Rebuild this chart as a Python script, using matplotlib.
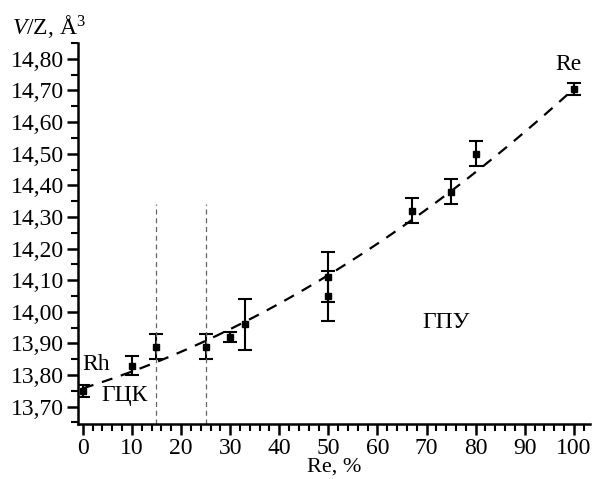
import numpy as np
import matplotlib
matplotlib.use("Agg")
import matplotlib.pyplot as plt
from matplotlib.ticker import MultipleLocator, FuncFormatter

plt.rcParams['font.family'] = ['Liberation Serif', 'DejaVu Serif']
plt.rcParams['mathtext.fontset'] = 'custom'
plt.rcParams['mathtext.rm'] = 'Liberation Serif'
plt.rcParams['mathtext.it'] = 'Liberation Serif:italic'

# содержание Re, % и объём на атом
re_pct = [0, 10, 15, 25, 30, 33, 50, 50, 67, 75, 80, 100]
vz = [13.75, 13.83, 13.89, 13.89, 13.92, 13.96, 14.11, 14.05, 14.32, 14.38, 14.50, 14.705]
vz_err = [0.02, 0.03, 0.04, 0.04, 0.015, 0.08, 0.08, 0.08, 0.04, 0.04, 0.04, 0.02]

# коэффициенты аппроксимирующей параболы (c0, c1, c2)
fit_coef = [13.758, 0.00485, 0.0000462]

# границы областей
bounds = [15, 25]

fig = plt.figure(figsize=(5.95, 4.79), dpi=100)
ax = fig.add_axes([0.131, 0.1147, 0.8606, 0.7955])

xf = np.linspace(0, 100, 200)
ax.plot(xf, np.polynomial.polynomial.polyval(xf, fit_coef), color='black', lw=1.6, dashes=(5, 4))

ax.errorbar(re_pct, vz, yerr=vz_err, fmt='s', color='black', ms=5,
            ecolor='black', elinewidth=1.5, capsize=5, capthick=1.5)

for b in bounds:
    ax.plot([b, b], [13.645, 14.34], color='#666666', lw=0.9, dashes=(4, 3))

fs = 17
ax.text(-0.2, 13.832, 'Rh', fontsize=fs, ha='left', va='center')
ax.text(8.45, 13.735, 'ГЦК', fontsize=fs, ha='center', va='center')
ax.text(74.0, 13.967, 'ГПУ', fontsize=fs, ha='center', va='center')
ax.text(98.9, 14.782, 'Re', fontsize=fs, ha='center', va='center')

ax.set_xlim(-1, 103.3)
ax.set_ylim(13.645, 14.85)
ax.xaxis.set_major_locator(MultipleLocator(10))
ax.xaxis.set_minor_locator(MultipleLocator(2))
ax.yaxis.set_major_locator(MultipleLocator(0.1))
ax.yaxis.set_minor_locator(MultipleLocator(0.05))
ax.yaxis.set_major_formatter(FuncFormatter(lambda v, p: f'{v:.2f}'.replace('.', ',')))

for s in ['top', 'right']:
    ax.spines[s].set_visible(False)
for s in ['left', 'bottom']:
    ax.spines[s].set_linewidth(1.8)
ax.tick_params(which='major', direction='out', length=8, width=1.8, labelsize=fs, pad=2)
ax.tick_params(which='minor', direction='out', length=5, width=1.5)

ax.set_xlabel('Re, %', fontsize=16, labelpad=-1)
fig.text(0.02, 0.944, '$V$/Z, Å$^3$', fontsize=fs, ha='left', va='center')

fig.savefig('out.png', dpi=100)
